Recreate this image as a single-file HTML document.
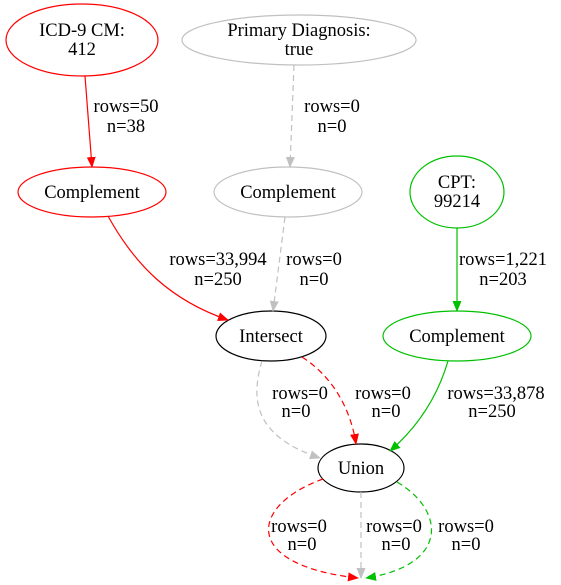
<!DOCTYPE html>
<html><head><meta charset="utf-8"><style>
html,body{margin:0;padding:0;background:#fff;}
svg{display:block;}
text{font-family:"Liberation Serif",serif;font-size:18.5px;text-anchor:middle;}
</style></head><body>
<svg width="561" height="585" viewBox="0 0 561 585" xmlns="http://www.w3.org/2000/svg">
<defs>
<marker id="ar" markerWidth="11" markerHeight="11" refX="10" refY="5.5" orient="auto" markerUnits="userSpaceOnUse"><path d="M0,1 L11,5.5 L0,10 Z" fill="#ff0000"/></marker>
<marker id="ag" markerWidth="11" markerHeight="11" refX="10" refY="5.5" orient="auto" markerUnits="userSpaceOnUse"><path d="M0,1 L11,5.5 L0,10 Z" fill="#c0c0c0"/></marker>
<marker id="agr" markerWidth="11" markerHeight="11" refX="10" refY="5.5" orient="auto" markerUnits="userSpaceOnUse"><path d="M0,1 L11,5.5 L0,10 Z" fill="#00c000"/></marker>
</defs>
<g fill="none" stroke-width="1.2">
<ellipse cx="82" cy="40" rx="76" ry="36" stroke="#ff0000"/>
<ellipse cx="299" cy="40" rx="117" ry="25" stroke="#c0c0c0"/>
<ellipse cx="92" cy="192" rx="74" ry="25" stroke="#ff0000"/>
<ellipse cx="288" cy="192" rx="74" ry="25" stroke="#c0c0c0"/>
<ellipse cx="457" cy="192" rx="47" ry="36" stroke="#00c000"/>
<ellipse cx="271" cy="336" rx="55" ry="25" stroke="#000"/>
<ellipse cx="457" cy="336" rx="74" ry="25" stroke="#00c000"/>
<ellipse cx="361" cy="468" rx="43" ry="24" stroke="#000"/>

<path d="M85,76 L92,167" stroke="#ff0000" marker-end="url(#ar)"/>
<path d="M294,65 L290,167" stroke="#c0c0c0" stroke-dasharray="6,4" marker-end="url(#ag)"/>
<path d="M108,216 C135,265 170,300 228,320" stroke="#ff0000" marker-end="url(#ar)"/>
<path d="M285,217 L273,311" stroke="#c0c0c0" stroke-dasharray="6,4" marker-end="url(#ag)"/>
<path d="M457,228 L457,311" stroke="#00c000" marker-end="url(#agr)"/>
<path d="M262,361 C252,395 250,435 320,458" stroke="#c0c0c0" stroke-dasharray="6,4" marker-end="url(#ag)"/>
<path d="M302,357 C330,375 350,405 356,444" stroke="#ff0000" stroke-dasharray="6,4" marker-end="url(#ar)"/>
<path d="M448,361 C438,395 420,425 390,451" stroke="#00c000" marker-end="url(#agr)"/>
<path d="M323,479 C250,505 240,565 358,578" stroke="#ff0000" stroke-dasharray="6,4" marker-end="url(#ar)"/>
<path d="M361,492 L361,578" stroke="#c0c0c0" stroke-dasharray="6,4" marker-end="url(#ag)"/>
<path d="M397,482 C445,510 450,565 366,578" stroke="#00c000" stroke-dasharray="6,4" marker-end="url(#agr)"/>
</g>
<text x="82" y="36">ICD-9 CM:</text><text x="82" y="55">412</text>
<text x="299" y="36">Primary Diagnosis:</text><text x="299" y="55">true</text>
<text x="92" y="198">Complement</text>
<text x="288" y="198">Complement</text>
<text x="457" y="188">CPT:</text><text x="457" y="207">99214</text>
<text x="271" y="342">Intersect</text>
<text x="457" y="342">Complement</text>
<text x="361" y="474">Union</text>

<text x="126" y="112">rows=50</text><text x="126" y="132">n=38</text>
<text x="332" y="112">rows=0</text><text x="332" y="132">n=0</text>
<text x="218" y="265">rows=33,994</text><text x="218" y="285">n=250</text>
<text x="314" y="265">rows=0</text><text x="314" y="285">n=0</text>
<text x="503" y="265">rows=1,221</text><text x="503" y="285">n=203</text>
<text x="300" y="399">rows=0</text><text x="296" y="417">n=0</text>
<text x="383" y="399">rows=0</text><text x="386" y="417">n=0</text>
<text x="496" y="399">rows=33,878</text><text x="492" y="417">n=250</text>
<text x="299" y="532">rows=0</text><text x="302" y="550">n=0</text>
<text x="394" y="532">rows=0</text><text x="396" y="550">n=0</text>
<text x="466" y="532">rows=0</text><text x="466" y="550">n=0</text>
</svg>
</body></html>
